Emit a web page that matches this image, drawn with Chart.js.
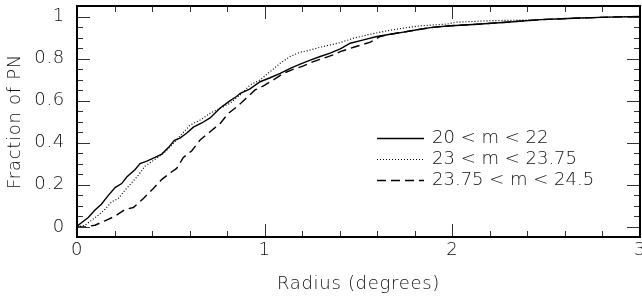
<!DOCTYPE html>
<html>
<head>
<meta charset="utf-8">
<script src="https://cdn.jsdelivr.net/npm/chart.js@4.4.1/dist/chart.umd.min.js"></script>
<style>
    html, body { margin: 0; padding: 0; background: #fff; }
    #wrap { width: 642px; height: 299px; }
</style>
</head>
<body>
<div id="wrap"><canvas id="cdfChart" width="642" height="299"></canvas></div>
<script>
// cumulative fraction of PN vs radius, three magnitude bins
const radiusBright = [0, 0.01, 0.06, 0.096, 0.13, 0.167, 0.203, 0.238, 0.265, 0.31, 0.336, 0.372, 0.416, 0.452, 0.487, 0.519, 0.549, 0.585, 0.62, 0.665, 0.709, 0.736, 0.763, 0.816, 0.85, 0.87, 0.92, 0.976, 1.029, 1.083, 1.136, 1.189, 1.243, 1.296, 1.349, 1.403, 1.456, 1.527, 1.598, 1.669, 1.74, 1.812, 1.883, 1.972, 2.11, 2.29, 2.47, 2.65, 2.83, 3.0];
const fracBright = [0, 0.01, 0.045, 0.08, 0.108, 0.15, 0.187, 0.206, 0.237, 0.273, 0.301, 0.313, 0.33, 0.346, 0.377, 0.412, 0.422, 0.446, 0.474, 0.494, 0.518, 0.541, 0.565, 0.6, 0.62, 0.635, 0.655, 0.69, 0.709, 0.73, 0.754, 0.774, 0.793, 0.81, 0.826, 0.846, 0.873, 0.889, 0.905, 0.916, 0.926, 0.937, 0.947, 0.955, 0.962, 0.973, 0.985, 0.992, 0.997, 1.0];

const radiusMid = [0, 0.043, 0.078, 0.114, 0.149, 0.185, 0.22, 0.256, 0.292, 0.327, 0.363, 0.398, 0.434, 0.469, 0.505, 0.549, 0.603, 0.656, 0.709, 0.763, 0.816, 0.869, 0.923, 0.976, 1.029, 1.083, 1.136, 1.189, 1.243, 1.296, 1.349, 1.403, 1.474, 1.563, 1.652, 1.74, 1.829, 1.972, 2.02, 2.2, 2.47, 2.65, 2.83, 3.0];
const fracMid = [0, 0.008, 0.032, 0.056, 0.084, 0.119, 0.135, 0.175, 0.21, 0.246, 0.289, 0.31, 0.333, 0.357, 0.389, 0.432, 0.484, 0.508, 0.54, 0.564, 0.588, 0.627, 0.675, 0.699, 0.738, 0.778, 0.81, 0.83, 0.841, 0.854, 0.865, 0.876, 0.897, 0.916, 0.932, 0.945, 0.956, 0.964, 0.973, 0.98, 0.985, 0.992, 0.997, 1.0];

const radiusFaint = [0, 0.043, 0.096, 0.149, 0.203, 0.256, 0.3, 0.354, 0.407, 0.452, 0.505, 0.531, 0.567, 0.612, 0.656, 0.709, 0.763, 0.807, 0.852, 0.896, 0.949, 0.994, 1.047, 1.1, 1.154, 1.207, 1.26, 1.314, 1.367, 1.403, 1.474, 1.563, 1.616, 1.669, 1.74, 1.812, 1.883, 1.972, 2.11, 2.29, 2.47, 2.65, 2.83, 3.0];
const fracFaint = [0, 0, 0.008, 0.029, 0.051, 0.083, 0.092, 0.135, 0.183, 0.226, 0.262, 0.278, 0.33, 0.362, 0.413, 0.452, 0.492, 0.54, 0.571, 0.607, 0.651, 0.67, 0.699, 0.73, 0.75, 0.765, 0.786, 0.802, 0.818, 0.833, 0.854, 0.878, 0.905, 0.916, 0.926, 0.937, 0.947, 0.955, 0.962, 0.973, 0.985, 0.992, 0.997, 1.0];

const seriesLabels = ["20 < m < 22", "23 < m < 23.75", "23.75 < m < 24.5"];

const xTickValues = [0, 1, 2, 3];
const yTickValues = [0, 0.2, 0.4, 0.6, 0.8, 1];

const textColor = "#111";
const fontFamily = "'DejaVu Sans', sans-serif";
const fontWeight = "200";

function toPoints(xs, ys) {
    return xs.map((x, i) => ({ x: x, y: ys[i] }));
}

// box around the plot with inward ticks on all four sides
const frameTicks = {
    id: "frameTicks",
    afterDraw(chart) {
        const ctx = chart.ctx;
        const area = chart.chartArea;
        const xs = chart.scales.x;
        const ys = chart.scales.y;
        const major = 13, minor = 6;

        ctx.save();
        ctx.strokeStyle = "#333";
        ctx.lineWidth = 1;
        ctx.beginPath();
        for (let i = 0; i <= 15; i++) {
            const v = i * 0.2;
            const len = (i % 5 === 0) ? major : minor;
            const px = Math.round(xs.getPixelForValue(v)) + 0.5;
            ctx.moveTo(px, area.bottom);
            ctx.lineTo(px, area.bottom - len);
            ctx.moveTo(px, area.top);
            ctx.lineTo(px, area.top + len);
        }
        for (let i = 0; i <= 20; i++) {
            const v = i * 0.05;
            const len = (i % 4 === 0) ? major : minor;
            const py = Math.round(ys.getPixelForValue(v)) + 0.5;
            ctx.moveTo(area.left, py);
            ctx.lineTo(area.left + len, py);
            ctx.moveTo(area.right, py);
            ctx.lineTo(area.right - len, py);
        }
        ctx.stroke();

        ctx.strokeStyle = "#000";
        ctx.lineWidth = 2;
        ctx.strokeRect(area.left, area.top, area.right - area.left, area.bottom - area.top);
        ctx.restore();
    }
};

// legend drawn inside the plot, lower right
const insideLegend = {
    id: "insideLegend",
    afterDraw(chart) {
        const ctx = chart.ctx;
        ctx.save();
        ctx.font = fontWeight + " 18px " + fontFamily;
        ctx.textBaseline = "middle";
        ctx.textAlign = "left";
        chart.data.datasets.forEach((ds, i) => {
            const y = 138 + i * 21;
            ctx.strokeStyle = ds.borderColor;
            ctx.lineWidth = ds.borderWidth;
            ctx.setLineDash(ds.borderDash || []);
            ctx.beginPath();
            ctx.moveTo(377, y + 0.5);
            ctx.lineTo(424, y + 0.5);
            ctx.stroke();
            ctx.setLineDash([]);
            ctx.fillStyle = textColor;
            ctx.fillText(ds.label, 432, y);
        });
        ctx.restore();
    }
};

// wider lettering, closer to the original plot font
const spacing = {
    id: "spacing",
    beforeDraw(chart) { chart.ctx.letterSpacing = "0.7px"; },
    afterDraw(chart) { chart.ctx.letterSpacing = "0px"; }
};

const labelFont = { family: fontFamily, size: 18, weight: fontWeight };

const ctx = document.getElementById("cdfChart").getContext("2d");
new Chart(ctx, {
    type: "line",
    data: {
        datasets: [
            {
                label: seriesLabels[0],
                data: toPoints(radiusBright, fracBright),
                borderColor: "#000",
                borderWidth: 1.4
            },
            {
                label: seriesLabels[1],
                data: toPoints(radiusMid, fracMid),
                borderColor: "#000",
                borderWidth: 1.2,
                borderDash: [1, 2]
            },
            {
                label: seriesLabels[2],
                data: toPoints(radiusFaint, fracFaint),
                borderColor: "#000",
                borderWidth: 1.4,
                borderDash: [9, 5]
            }
        ]
    },
    options: {
        responsive: false,
        animation: false,
        layout: { padding: { top: 6, right: 2, left: 0, bottom: 0 } },
        elements: {
            point: { radius: 0 },
            line: { tension: 0, fill: false }
        },
        plugins: {
            legend: { display: false },
            tooltip: { enabled: false }
        },
        scales: {
            x: {
                type: "linear",
                min: 0,
                max: 3,
                border: { display: false },
                grid: { display: false, drawTicks: false },
                afterBuildTicks(scale) {
                    scale.ticks = xTickValues.map(v => ({ value: v }));
                },
                ticks: {
                    padding: 3,
                    color: textColor,
                    font: labelFont,
                    callback: v => String(v)
                },
                title: {
                    display: true,
                    text: "Radius (degrees)",
                    color: textColor,
                    font: labelFont,
                    padding: { top: 0, bottom: 4 }
                },
                afterFit(scale) {
                    scale.height = 62;
                    scale.paddingLeft = 0;
                    scale.paddingRight = 0;
                }
            },
            y: {
                min: -0.048,
                max: 1.05,
                border: { display: false },
                grid: { display: false, drawTicks: false },
                afterBuildTicks(scale) {
                    scale.ticks = yTickValues.map(v => ({ value: v }));
                },
                ticks: {
                    padding: 12,
                    color: textColor,
                    font: labelFont,
                    callback: v => String(v)
                },
                title: {
                    display: true,
                    text: "Fraction of PN",
                    color: textColor,
                    font: labelFont,
                    padding: { top: 5, bottom: 0 }
                },
                afterFit(scale) {
                    scale.width = 77;
                    scale.paddingTop = 0;
                    scale.paddingBottom = 0;
                }
            }
        }
    },
    plugins: [spacing, frameTicks, insideLegend]
});
</script>
</body>
</html>
